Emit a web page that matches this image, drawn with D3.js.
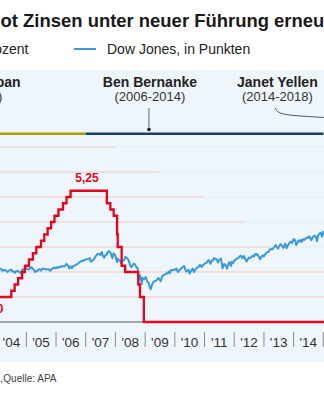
<!DOCTYPE html>
<html>
<head>
<meta charset="utf-8">
<script src="https://cdn.jsdelivr.net/npm/d3@7"></script>
<style>
  body { margin: 0; background: #fff; }
  svg { display: block; font-family: Arial, "Liberation Sans", sans-serif; }
</style>
</head>
<body>
<svg id="chart" width="324" height="400"></svg>
<script>
// ---- data ----
var years = [2004, 2005, 2006, 2007, 2008, 2009, 2010, 2011, 2012, 2013, 2014];
var yearLabels = ["'04", "'05", "'06", "'07", "'08", "'09", "'10", "'11", "'12", "'13", "'14"];

// Fed funds target rate, in percent (step changes)
var rateDates = ["2003-12-01", "2004-06-30", "2004-08-10", "2004-09-21", "2004-11-10", "2004-12-14",
  "2005-02-02", "2005-03-22", "2005-05-03", "2005-06-30", "2005-08-09", "2005-09-20", "2005-11-01",
  "2005-12-13", "2006-01-31", "2006-03-28", "2006-05-10", "2006-06-29", "2007-09-18", "2007-10-31",
  "2007-12-11", "2008-01-22", "2008-01-30", "2008-03-18", "2008-04-30", "2008-10-08", "2008-10-29",
  "2008-12-16", "2015-06-01"];
var rateValues = [1.00, 1.25, 1.50, 1.75, 2.00, 2.25, 2.50, 2.75, 3.00, 3.25, 3.50, 3.75, 4.00,
  4.25, 4.50, 4.75, 5.00, 5.25, 4.75, 4.50, 4.25, 3.50, 3.00, 2.25, 2.00, 1.50, 1.00, 0, 0];

// Dow Jones, in points
var dowSeries = [
  ["2004-01-15",10600],["2004-01-30",10488],["2004-02-13",10628],["2004-02-27",10584],["2004-03-12",10240],["2004-03-31",10358],
  ["2004-04-15",10380],["2004-04-30",10226],["2004-05-14",10012],["2004-05-28",10188],["2004-06-15",10400],["2004-06-30",10435],
  ["2004-07-15",10080],["2004-07-30",10140],["2004-08-13",9825],["2004-08-31",10174],["2004-09-15",10230],["2004-09-30",10080],
  ["2004-10-22",9757],["2004-10-29",10027],["2004-11-15",10550],["2004-11-30",10428],["2004-12-15",10690],["2004-12-31",10783],
  ["2005-01-14",10558],["2005-01-31",10490],["2005-02-15",10837],["2005-02-28",10766],["2005-03-04",10940],["2005-03-31",10504],
  ["2005-04-20",10012],["2005-04-29",10193],["2005-05-13",10140],["2005-05-31",10467],["2005-06-15",10566],["2005-06-30",10275],
  ["2005-07-15",10640],["2005-07-29",10641],["2005-08-15",10634],["2005-08-31",10482],["2005-09-15",10558],["2005-09-30",10569],
  ["2005-10-20",10215],["2005-10-31",10440],["2005-11-15",10686],["2005-11-30",10806],["2005-12-15",10881],["2005-12-30",10718],
  ["2006-01-13",10960],["2006-01-31",10865],["2006-02-15",11030],["2006-02-28",10993],["2006-03-15",11210],["2006-03-31",11109],
  ["2006-04-13",11140],["2006-04-28",11367],["2006-05-10",11640],["2006-05-31",11168],["2006-06-13",10706],["2006-06-30",11150],
  ["2006-07-14",10739],["2006-07-31",11186],["2006-08-15",11230],["2006-08-31",11381],["2006-09-15",11560],["2006-09-29",11679],
  ["2006-10-16",11980],["2006-10-31",12081],["2006-11-15",12250],["2006-11-30",12222],["2006-12-15",12445],["2006-12-29",12463],
  ["2007-01-15",12556],["2007-01-31",12622],["2007-02-20",12786],["2007-02-27",12216],["2007-03-13",12075],["2007-03-30",12354],
  ["2007-04-13",12612],["2007-04-30",13063],["2007-05-15",13383],["2007-05-31",13628],["2007-06-15",13639],["2007-06-29",13409],
  ["2007-07-19",14000],["2007-07-31",13212],["2007-08-16",12845],["2007-08-31",13358],["2007-09-14",13442],["2007-09-28",13896],
  ["2007-10-09",14165],["2007-10-31",13930],["2007-11-26",12744],["2007-11-30",13372],["2007-12-10",13727],["2007-12-31",13265],
  ["2008-01-22",11971],["2008-01-31",12650],["2008-02-15",12348],["2008-02-29",12266],["2008-03-10",11740],["2008-03-31",12263],
  ["2008-04-15",12362],["2008-04-30",12820],["2008-05-02",13058],["2008-05-30",12638],["2008-06-13",12307],["2008-06-30",11350],
  ["2008-07-15",10962],["2008-07-31",11378],["2008-08-15",11659],["2008-08-29",11544],["2008-09-15",10917],["2008-09-30",10851],
  ["2008-10-10",8451],["2008-10-31",9325],["2008-11-20",7552],["2008-11-28",8829],["2008-12-15",8565],["2008-12-31",8776],
  ["2009-01-06",9015],["2009-01-30",8001],["2009-02-13",7850],["2009-02-27",7063],["2009-03-09",6547],["2009-03-31",7609],
  ["2009-04-15",8029],["2009-04-30",8168],["2009-05-15",8268],["2009-05-29",8500],["2009-06-12",8799],["2009-06-30",8447],
  ["2009-07-10",8146],["2009-07-31",9172],["2009-08-14",9321],["2009-08-31",9496],["2009-09-15",9683],["2009-09-30",9712],
  ["2009-10-19",10092],["2009-10-30",9713],["2009-11-16",10406],["2009-11-30",10345],["2009-12-15",10452],["2009-12-31",10428],
  ["2010-01-19",10725],["2010-02-08",10002],["2010-02-26",10325],["2010-03-15",10643],["2010-03-31",10857],["2010-04-26",11205],
  ["2010-04-30",11009],["2010-05-20",10068],["2010-05-28",10137],["2010-06-18",10450],["2010-07-02",9686],["2010-07-30",10466],
  ["2010-08-09",10698],["2010-08-26",9985],["2010-09-15",10572],["2010-09-30",10788],["2010-10-15",11062],["2010-10-29",11118],
  ["2010-11-05",11444],["2010-11-30",11006],["2010-12-15",11457],["2010-12-31",11578],
  ["2011-01-14",11787],["2011-01-31",11892],["2011-02-18",12391],["2011-02-28",12226],["2011-03-16",11613],["2011-03-31",12320],
  ["2011-04-15",12342],["2011-04-29",12811],["2011-05-16",12548],["2011-05-31",12570],["2011-06-15",11897],["2011-06-30",12414],
  ["2011-07-21",12724],["2011-07-29",12143],["2011-08-10",10719],["2011-08-31",11614],["2011-09-15",11433],["2011-09-30",10913],
  ["2011-10-03",10655],["2011-10-31",11955],["2011-11-25",11231],["2011-11-30",12046],["2011-12-19",11766],["2011-12-30",12218],
  ["2012-01-13",12422],["2012-01-31",12633],["2012-02-15",12781],["2012-02-29",12952],["2012-03-16",13232],["2012-03-30",13212],
  ["2012-04-10",12716],["2012-04-30",13214],["2012-05-15",12633],["2012-06-01",12119],["2012-06-29",12880],["2012-07-13",12777],
  ["2012-07-31",13009],["2012-08-16",13250],["2012-08-31",13091],["2012-09-14",13593],["2012-09-28",13437],["2012-10-05",13610],
  ["2012-10-31",13096],["2012-11-15",12542],["2012-11-30",13026],["2012-12-18",13350],["2012-12-31",13104],
  ["2013-01-15",13534],["2013-01-31",13861],["2013-02-15",13981],["2013-02-28",14054],["2013-03-15",14514],["2013-03-28",14579],
  ["2013-04-18",14537],["2013-04-30",14840],["2013-05-28",15409],["2013-05-31",15116],["2013-06-24",14660],["2013-06-28",14910],
  ["2013-07-22",15545],["2013-07-31",15500],["2013-08-15",15112],["2013-08-30",14810],["2013-09-18",15676],["2013-09-30",15130],
  ["2013-10-08",14776],["2013-10-31",15546],["2013-11-15",15962],["2013-11-29",16086],["2013-12-13",15755],["2013-12-31",16577],
  ["2014-01-15",16481],["2014-02-03",15372],["2014-02-28",16322],["2014-03-14",16066],["2014-03-31",16458],["2014-04-11",16027],
  ["2014-04-30",16581],["2014-05-15",16447],["2014-05-30",16717],["2014-06-20",16947],["2014-06-30",16827],["2014-07-16",17138],
  ["2014-07-31",16563],["2014-08-07",16368],["2014-08-29",17098],["2014-09-19",17280],["2014-09-30",17043],["2014-10-15",16141],
  ["2014-10-31",17391],["2014-11-14",17634],["2014-11-28",17828],["2014-12-16",17068],["2014-12-26",18053],["2014-12-31",17823],
  ["2015-01-15",17320],["2015-01-30",17165]
];

// Fed chairs: name, term, bar span, label position (dates)
var chairNames = ["Alan Greenspan", "Ben Bernanke", "Janet Yellen"];
var chairTerms = ["(1987-2006)", "(2006-2014)", "(2014-2018)"];
var chairBarStart = ["2000-01-01", "2007-01-01", "2015-01-01"];
var chairBarEnd = ["2007-01-01", "2015-01-01", "2019-01-01"];
var chairLabelAt = ["2003-01-01", "2009-03-01", "2013-06-15"];
var chairColors = ["#a49e0c", "#173f6b", "#6a9a3a"];

var gridValues = [1, 2, 3, 4, 5, 6, 7];
var gridFadeAt = ["2016-01-01", "2016-01-01", "2013-04-15", "2012-05-15", "2010-12-15", "2009-06-15", "2007-12-20"];

// ---- setup ----
var parse = d3.timeParse("%Y-%m-%d");
var svg = d3.select("#chart");

var x = d3.scaleTime()
  .domain([new Date(2004, 0, 1), new Date(2015, 0, 1)])
  .range([-3.4, 323.3]);
var yRate = d3.scaleLinear().domain([0, 7]).range([322, 147]);
var yDow = d3.scaleLinear().domain([0, 35000]).range([322, 147]);

// title - fit so that "Zinsen" starts near x=18 and "erneu" ends at the right edge
var titleText = "ot Zinsen unter neuer Führung erneut";
var probe = svg.append("text").attr("font-size", 20).attr("font-weight", "bold");
var w1 = probe.text("ot ").node().getComputedTextLength();
var w2 = probe.text("ot Zinsen unter neuer Führung erneu").node().getComputedTextLength();
probe.remove();
var titleSize = 20 * 306.5 / (w2 - w1);
var titleX = 18 - w1 * titleSize / 20;
svg.append("text")
  .attr("x", titleX).attr("y", 27)
  .attr("font-size", titleSize).attr("font-weight", "bold").attr("fill", "#1a1a1a")
  .text(titleText);

// legend
svg.append("text")
  .attr("x", 28.5).attr("y", 53.5).attr("text-anchor", "end")
  .attr("font-size", 14).attr("fill", "#222")
  .text("Leitzins, in Prozent");
svg.append("line")
  .attr("x1", 74).attr("x2", 96).attr("y1", 49).attr("y2", 49)
  .attr("stroke", "#3d9ad6").attr("stroke-width", 2);
svg.append("text")
  .attr("x", 107).attr("y", 53.5)
  .attr("font-size", 14).attr("fill", "#222")
  .text("Dow Jones, in Punkten");

// panel background
svg.append("rect")
  .attr("x", 0).attr("y", 70).attr("width", 324).attr("height", 292)
  .attr("fill", "#eef6fc");

// gridlines: faint full width + salmon segments
svg.selectAll(".gfaint").data(gridValues).enter().append("line")
  .attr("x1", 0).attr("x2", 324)
  .attr("y1", function (d) { return yRate(d); })
  .attr("y2", function (d) { return yRate(d); })
  .attr("stroke", "#e1eef8").attr("stroke-width", 1);
svg.selectAll(".gsalmon").data(gridValues).enter().append("line")
  .attr("x1", 0)
  .attr("x2", function (d, i) { return Math.min(324, x(parse(gridFadeAt[i]))); })
  .attr("y1", function (d) { return yRate(d); })
  .attr("y2", function (d) { return yRate(d); })
  .attr("stroke", "#f6cfc0").attr("stroke-width", 1);

// baseline
svg.append("line")
  .attr("x1", 0).attr("x2", 324).attr("y1", yRate(0)).attr("y2", yRate(0))
  .attr("stroke", "#555").attr("stroke-width", 1);

// chair bars and labels
chairNames.forEach(function (name, i) {
  svg.append("line")
    .attr("x1", x(parse(chairBarStart[i]))).attr("x2", x(parse(chairBarEnd[i])))
    .attr("y1", 133.7).attr("y2", 133.7)
    .attr("stroke", chairColors[i]).attr("stroke-width", 2.6);
  var cx = x(parse(chairLabelAt[i]));
  svg.append("text")
    .attr("x", cx).attr("y", 86.7).attr("text-anchor", "middle")
    .attr("font-size", 14).attr("font-weight", "bold").attr("fill", "#222")
    .text(name);
  svg.append("text")
    .attr("x", cx).attr("y", 100.5).attr("text-anchor", "middle")
    .attr("font-size", 13).attr("fill", "#333")
    .text(chairTerms[i]);
});

// Bernanke pointer
var bx = x(parse(chairLabelAt[1])) - 1;
svg.append("line")
  .attr("x1", bx).attr("x2", bx).attr("y1", 108).attr("y2", 129)
  .attr("stroke", "#666").attr("stroke-width", 1);
svg.append("circle")
  .attr("cx", bx).attr("cy", 129.5).attr("r", 1.8).attr("fill", "#111");

// Yellen pointer curve
var yx = x(parse(chairLabelAt[2])) - 2;
svg.append("path")
  .attr("d", "M" + yx + ",108 C" + (yx + 2) + ",116 " + (yx + 15) + ",115 " + (yx + 55) + ",118")
  .attr("fill", "none").attr("stroke", "#555").attr("stroke-width", 1);

// year separators and labels
svg.selectAll(".sep").data(years).enter().append("line")
  .attr("x1", function (d) { return x(new Date(d + 1, 0, 1)); })
  .attr("x2", function (d) { return x(new Date(d + 1, 0, 1)); })
  .attr("y1", 332).attr("y2", 347)
  .attr("stroke", "#8a8a8a").attr("stroke-width", 1);
svg.selectAll(".ylab").data(years).enter().append("text")
  .attr("x", function (d) { return x(new Date(d, 6, 1)); })
  .attr("y", 346.5).attr("text-anchor", "middle")
  .attr("font-size", 13.5).attr("fill", "#333")
  .text(function (d, i) { return yearLabels[i]; });

// Dow line
var dowLine = d3.line()
  .x(function (d) { return x(parse(d[0])); })
  .y(function (d) { return yDow(d[1]); });
svg.append("path")
  .datum(dowSeries)
  .attr("d", dowLine)
  .attr("fill", "none").attr("stroke", "#3a9ad8").attr("stroke-width", 2)
  .attr("stroke-linejoin", "round");

// rate step line
var rateData = rateDates.map(function (d, i) { return [parse(d), rateValues[i]]; });
var rateLine = d3.line()
  .curve(d3.curveStepAfter)
  .x(function (d) { return x(d[0]); })
  .y(function (d) { return yRate(d[1]); });
svg.append("path")
  .datum(rateData)
  .attr("d", rateLine)
  .attr("fill", "none").attr("stroke", "#e3051b").attr("stroke-width", 2.3);

// rate labels
svg.append("text")
  .attr("x", 87).attr("y", yRate(5.25) - 8.5).attr("text-anchor", "middle")
  .attr("font-size", 12).attr("font-weight", "bold").attr("fill", "#e3051b")
  .text("5,25");
svg.append("text")
  .attr("x", 3.5).attr("y", yRate(1) + 16).attr("text-anchor", "end")
  .attr("font-size", 12).attr("font-weight", "bold").attr("fill", "#e3051b")
  .text("1,00");

// source
svg.append("text")
  .attr("x", 3.3).attr("y", 382).attr("text-anchor", "start")
  .attr("font-size", 10).attr("fill", "#444")
  .text("Quelle: APA");
svg.append("text")
  .attr("x", 3).attr("y", 382).attr("text-anchor", "end")
  .attr("font-size", 10).attr("fill", "#444")
  .text("Grafik: APA,");
</script>
</body>
</html>
